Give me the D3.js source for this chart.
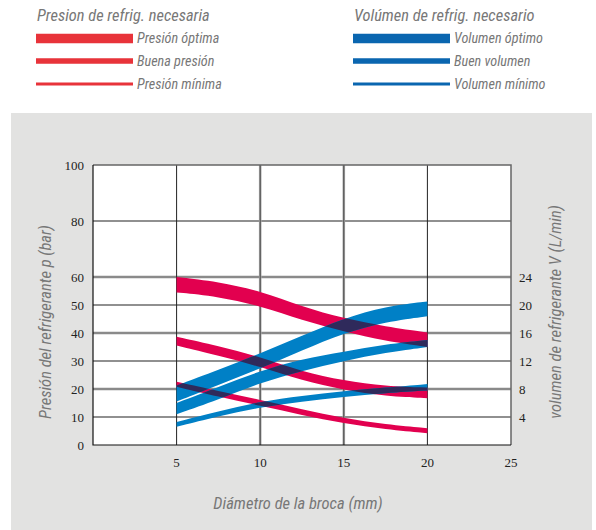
<!DOCTYPE html>
<html><head><meta charset="utf-8">
<script src="https://cdn.jsdelivr.net/npm/d3@7"></script>
<style>
html,body{margin:0;padding:0;background:#fff;}
svg{display:block;}
.cond{font-family:"Liberation Sans Narrow","Roboto Condensed","Roboto",sans-serif;font-style:italic;fill:#777;}
.serif{font-family:"Liberation Serif","DejaVu Serif",serif;fill:#222;font-size:13px;}
</style></head>
<body>
<script>
// ---- data ----
const diameters = [5, 7.5, 10, 12.5, 15, 17.5, 20];           // mm
// pressure bands (bar): upper / lower edge
const presOptTop = [60, 58.3, 55, 49.4, 45.2, 42.3, 40.2];
const presOptBot = [54.5, 53, 49.7, 44.6, 40.5, 37.1, 35];
const presGoodTop = [38.7, 35.4, 31.5, 26.2, 23, 21, 20.5];
const presGoodBot = [35.5, 31.9, 28, 23, 19.6, 17.5, 16.7];
const presMinTop = [22.6, 19.3, 16.1, 12.8, 9.5, 7.4, 6];
const presMinBot = [20.8, 17.3, 14, 10.7, 7.7, 5.6, 4.2];
// volume bands (L/min): upper / lower edge
const volOptTop = [8.5, 10.7, 13.1, 15.6, 18.1, 19.8, 20.5];
const volOptBot = [6.2, 8.6, 10.9, 13.5, 16.0, 17.6, 18.4];
const volGoodTop = [6.0, 8.3, 10.6, 12.3, 13.3, 14.4, 15.0];
const volGoodBot = [4.4, 6.5, 8.9, 10.6, 12.0, 13.2, 14.0];
const volMinTop = [3.3, 4.8, 6.2, 7.0, 7.7, 8.2, 8.7];
const volMinBot = [2.6, 4.1, 5.4, 6.2, 6.9, 7.4, 7.8];

const xTicks = [5, 10, 15, 20, 25];
const pTicks = [0, 10, 20, 30, 40, 50, 60, 80, 100];
const vTicks = [4, 8, 12, 16, 20, 24];
const pLegend = ["Presión óptima", "Buena presión", "Presión mínima"];
const vLegend = ["Volumen óptimo", "Buen volumen", "Volumen mínimo"];
const pTitle = "Presion de refrig. necesaria";
const vTitle = "Volúmen de refrig. necesario";

// ---- drawing ----
const W = 596, H = 530;
const svg = d3.select("body").append("svg").attr("width", W).attr("height", H);
const RED = "#e2004f", BLUE = "#0080c6", NAVY = "#2f2a5b";
const LRED = "#e8333a", LBLUE = "#0a66b0";

// gray panel
svg.append("rect").attr("x", 11).attr("y", 113).attr("width", 581).attr("height", H - 113).attr("fill", "#e2e2e1");

const x = d3.scaleLinear().domain([0, 25]).range([93, 511]);
const yP = d3.scaleLinear().domain([0, 100]).range([445, 165]);
const yV = d3.scaleLinear().domain([0, 40]).range([445, 165]);

// plot background
svg.append("rect").attr("x", x(0)).attr("y", yP(100)).attr("width", x(25) - x(0)).attr("height", yP(0) - yP(100)).attr("fill", "#fff");

// grid
const gGrid = svg.append("g");
pTicks.filter(d => d > 0 && d < 100).forEach(d => {
  const gray = (d === 20 || d === 40 || d === 60);
  gGrid.append("line").attr("x1", x(0)).attr("x2", x(25)).attr("y1", yP(d)).attr("y2", yP(d))
    .attr("stroke", gray ? "#8a8a8a" : "#222").attr("stroke-width", gray ? 2.5 : 1.2);
});
xTicks.filter(d => d < 25).forEach(d => {
  const gray = (d === 10 || d === 15);
  if (gray) gGrid.append("line").attr("x1", x(d)).attr("x2", x(d)).attr("y1", yP(0)).attr("y2", yP(100))
    .attr("stroke", "#aaa").attr("stroke-width", 2.6);
  gGrid.append("line").attr("x1", x(d)).attr("x2", x(d)).attr("y1", yP(0)).attr("y2", yP(100))
    .attr("stroke", gray ? "#444" : "#222").attr("stroke-width", 1);
});

// bands
const defs = svg.append("defs");
function band(top, bot, ys) {
  return d3.area().x((d, i) => x(diameters[i])).y0((d, i) => ys(bot[i])).y1((d, i) => ys(top[i]))
    .curve(d3.curveBasis)(top);
}
const presBands = [[presOptTop, presOptBot], [presGoodTop, presGoodBot], [presMinTop, presMinBot]];
const volBands = [[volOptTop, volOptBot], [volGoodTop, volGoodBot], [volMinTop, volMinBot]];
const gBands = svg.append("g");
presBands.forEach((b, i) => {
  const p = band(b[0], b[1], yP);
  gBands.append("path").attr("d", p).attr("fill", RED);
  defs.append("clipPath").attr("id", "clipP" + i).append("path").attr("d", p);
});
volBands.forEach(b => {
  gBands.append("path").attr("d", band(b[0], b[1], yV)).attr("fill", BLUE);
});
presBands.forEach((pb, i) => {
  volBands.forEach(b => {
    gBands.append("path").attr("d", band(b[0], b[1], yV)).attr("fill", NAVY).attr("clip-path", "url(#clipP" + i + ")");
  });
});

// frame
svg.append("path").attr("d", `M${x(0)},${yP(100)}H${x(25)}V${yP(0)}`).attr("fill", "none").attr("stroke", "#666").attr("stroke-width", 1.5);
svg.append("path").attr("d", `M${x(0)},${yP(100)}V${yP(0)}H${x(25)}`).attr("fill", "none").attr("stroke", "#111").attr("stroke-width", 1.2);

// tick labels
pTicks.forEach(d => svg.append("text").attr("class", "serif").attr("x", 84).attr("y", yP(d)).attr("dy", "0.35em").attr("text-anchor", "end").text(d));
vTicks.forEach(d => svg.append("text").attr("class", "serif").attr("x", 519).attr("y", yV(d)).attr("dy", "0.35em").attr("text-anchor", "start").text(d));
xTicks.forEach(d => svg.append("text").attr("class", "serif").attr("x", x(d)).attr("y", 462).attr("dy", "0.35em").attr("text-anchor", "middle").text(d));

// axis titles
svg.append("text").attr("class", "cond").attr("font-size", 16.5).attr("text-anchor", "middle")
  .attr("transform", "translate(51,322) rotate(-90)").text("Presión del refrigerante p (bar)");
svg.append("text").attr("class", "cond").attr("font-size", 16.5).attr("text-anchor", "middle")
  .attr("transform", "translate(561,312) rotate(-90)").text("volumen de refrigerante V (L/min)");
svg.append("text").attr("class", "cond").attr("font-size", 16.5).attr("text-anchor", "middle")
  .attr("x", 298).attr("y", 509).text("Diámetro de la broca (mm)");

// legends
const thick = [9.5, 5.5, 3];
const rowY = [38.5, 61, 84];
function legend(x0, title, labels, col) {
  svg.append("text").attr("class", "cond").attr("font-size", 16.4).attr("x", x0 + 1).attr("y", 21).text(title);
  labels.forEach((l, i) => {
    svg.append("rect").attr("x", x0).attr("y", rowY[i] - thick[i] / 2).attr("width", 97).attr("height", thick[i]).attr("fill", col);
    svg.append("text").attr("class", "cond").attr("font-size", 14.2).attr("x", x0 + 101).attr("y", rowY[i]).attr("dy", "0.35em").text(l);
  });
}
legend(36, pTitle, pLegend, LRED);
legend(353, vTitle, vLegend, LBLUE);
</script>
</body></html>
